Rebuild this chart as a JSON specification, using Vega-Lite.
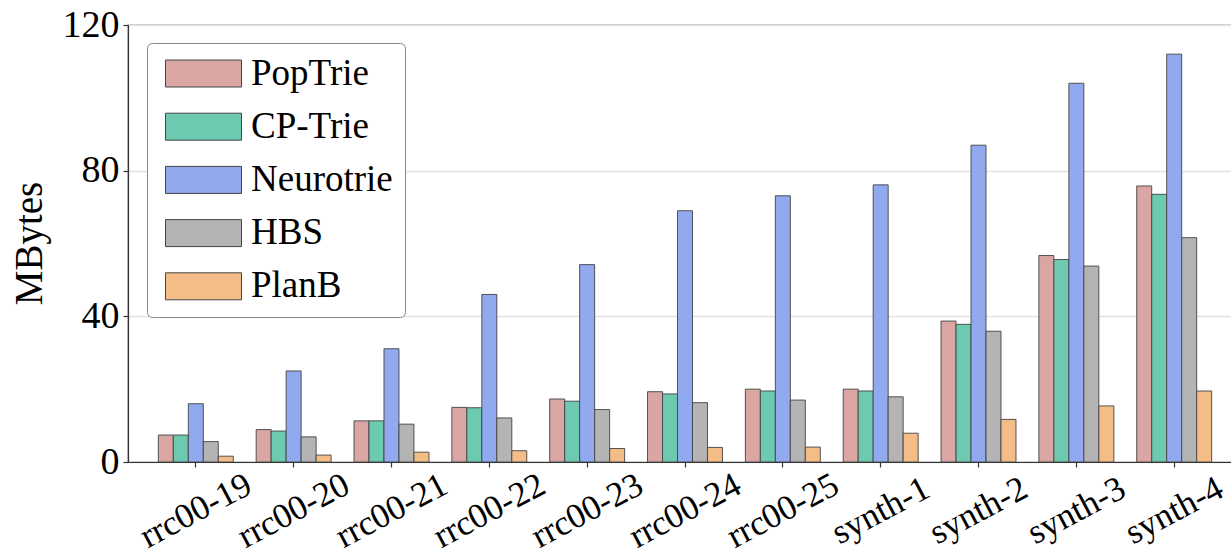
{
  "$schema": "https://vega.github.io/schema/vega-lite/v6.json",
  "autosize": {"type": "none"},
  "padding": {"left": 128, "top": 25, "right": 0, "bottom": 94},
  "width": 1114,
  "height": 437,
  "background": "white",
  "config": {
    "font": "Liberation Serif",
    "view": {"stroke": "#333", "strokeWidth": 1.2},
    "axis": {"domainColor": "#333", "tickColor": "#333", "labelColor": "black", "titleColor": "black", "domainWidth": 1.2, "tickWidth": 1.2}
  },
  "data": {
    "values": [
      {"dataset": "rrc00-19", "method": "PopTrie", "value": 7.4},
      {"dataset": "rrc00-19", "method": "CP-Trie", "value": 7.4},
      {"dataset": "rrc00-19", "method": "Neurotrie", "value": 16.0},
      {"dataset": "rrc00-19", "method": "HBS", "value": 5.6},
      {"dataset": "rrc00-19", "method": "PlanB", "value": 1.6},
      {"dataset": "rrc00-20", "method": "PopTrie", "value": 8.9},
      {"dataset": "rrc00-20", "method": "CP-Trie", "value": 8.5},
      {"dataset": "rrc00-20", "method": "Neurotrie", "value": 25.0},
      {"dataset": "rrc00-20", "method": "HBS", "value": 6.9},
      {"dataset": "rrc00-20", "method": "PlanB", "value": 1.9},
      {"dataset": "rrc00-21", "method": "PopTrie", "value": 11.3},
      {"dataset": "rrc00-21", "method": "CP-Trie", "value": 11.3},
      {"dataset": "rrc00-21", "method": "Neurotrie", "value": 31.1},
      {"dataset": "rrc00-21", "method": "HBS", "value": 10.4},
      {"dataset": "rrc00-21", "method": "PlanB", "value": 2.7},
      {"dataset": "rrc00-22", "method": "PopTrie", "value": 15.0},
      {"dataset": "rrc00-22", "method": "CP-Trie", "value": 14.9},
      {"dataset": "rrc00-22", "method": "Neurotrie", "value": 46.0},
      {"dataset": "rrc00-22", "method": "HBS", "value": 12.1},
      {"dataset": "rrc00-22", "method": "PlanB", "value": 3.1},
      {"dataset": "rrc00-23", "method": "PopTrie", "value": 17.3},
      {"dataset": "rrc00-23", "method": "CP-Trie", "value": 16.7},
      {"dataset": "rrc00-23", "method": "Neurotrie", "value": 54.2},
      {"dataset": "rrc00-23", "method": "HBS", "value": 14.4},
      {"dataset": "rrc00-23", "method": "PlanB", "value": 3.7},
      {"dataset": "rrc00-24", "method": "PopTrie", "value": 19.3},
      {"dataset": "rrc00-24", "method": "CP-Trie", "value": 18.7},
      {"dataset": "rrc00-24", "method": "Neurotrie", "value": 69.0},
      {"dataset": "rrc00-24", "method": "HBS", "value": 16.3},
      {"dataset": "rrc00-24", "method": "PlanB", "value": 4.0},
      {"dataset": "rrc00-25", "method": "PopTrie", "value": 20.0},
      {"dataset": "rrc00-25", "method": "CP-Trie", "value": 19.5},
      {"dataset": "rrc00-25", "method": "Neurotrie", "value": 73.1},
      {"dataset": "rrc00-25", "method": "HBS", "value": 17.0},
      {"dataset": "rrc00-25", "method": "PlanB", "value": 4.1},
      {"dataset": "synth-1", "method": "PopTrie", "value": 20.0},
      {"dataset": "synth-1", "method": "CP-Trie", "value": 19.5},
      {"dataset": "synth-1", "method": "Neurotrie", "value": 76.1},
      {"dataset": "synth-1", "method": "HBS", "value": 17.9},
      {"dataset": "synth-1", "method": "PlanB", "value": 7.9},
      {"dataset": "synth-2", "method": "PopTrie", "value": 38.7},
      {"dataset": "synth-2", "method": "CP-Trie", "value": 37.8},
      {"dataset": "synth-2", "method": "Neurotrie", "value": 87.0},
      {"dataset": "synth-2", "method": "HBS", "value": 35.9},
      {"dataset": "synth-2", "method": "PlanB", "value": 11.7},
      {"dataset": "synth-3", "method": "PopTrie", "value": 56.7},
      {"dataset": "synth-3", "method": "CP-Trie", "value": 55.6},
      {"dataset": "synth-3", "method": "Neurotrie", "value": 104.0},
      {"dataset": "synth-3", "method": "HBS", "value": 53.8},
      {"dataset": "synth-3", "method": "PlanB", "value": 15.4},
      {"dataset": "synth-4", "method": "PopTrie", "value": 75.8},
      {"dataset": "synth-4", "method": "CP-Trie", "value": 73.5},
      {"dataset": "synth-4", "method": "Neurotrie", "value": 112.0},
      {"dataset": "synth-4", "method": "HBS", "value": 61.6},
      {"dataset": "synth-4", "method": "PlanB", "value": 19.5}
    ]
  },
  "mark": {"type": "bar", "stroke": "#444", "strokeWidth": 1, "strokeOpacity": 0.9},
  "encoding": {
    "x": {
      "field": "dataset",
      "type": "nominal",
      "sort": null,
      "scale": {"paddingInner": 0.234, "paddingOuter": 0.31},
      "axis": {
        "title": null,
        "labelFontSize": 35,
        "labelAngle": -28,
        "labelAlign": "center",
        "labelBaseline": "middle",
        "labelPadding": 43,
        "tickSize": 5,
        "labelOverlap": false,
        "labelFlush": false
      }
    },
    "xOffset": {
      "field": "method",
      "type": "nominal",
      "sort": ["PopTrie", "CP-Trie", "Neurotrie", "HBS", "PlanB"],
      "scale": {"paddingInner": 0, "paddingOuter": 0}
    },
    "y": {
      "field": "value",
      "type": "quantitative",
      "scale": {"domain": [0, 120], "nice": false},
      "axis": {
        "title": "MBytes",
        "titleFontSize": 39,
        "titleFontWeight": "normal",
        "titleAngle": -90,
        "titleAlign": "center",
        "titleBaseline": "middle",
        "titleX": -99,
        "titleY": 218,
        "values": [0, 40, 80, 120],
        "labelFontSize": 38,
        "labelPadding": 4,
        "tickSize": 5,
        "grid": true,
        "gridColor": "#e3e3e3",
        "gridWidth": 1.5
      }
    },
    "color": {
      "field": "method",
      "type": "nominal",
      "scale": {
        "domain": ["PopTrie", "CP-Trie", "Neurotrie", "HBS", "PlanB"],
        "range": ["#d9a6a3", "#6dcab0", "#91a9ee", "#b4b4b4", "#f4bd88"]
      },
      "legend": {
        "title": null,
        "orient": "none",
        "legendX": 19,
        "legendY": 18,
        "symbolType": "M-2.815,-1L2.815,-1L2.815,1L-2.815,1Z",
        "symbolSize": 729,
        "symbolOffset": 26,
        "symbolStrokeColor": "#444",
        "symbolStrokeWidth": 1,
        "symbolOpacity": 1,
        "labelFontSize": 37,
        "labelColor": "black",
        "labelOffset": 29,
        "rowPadding": 15.2,
        "padding": 12,
        "strokeColor": "#888",
        "fillColor": "white",
        "cornerRadius": 5
      }
    }
  }
}
